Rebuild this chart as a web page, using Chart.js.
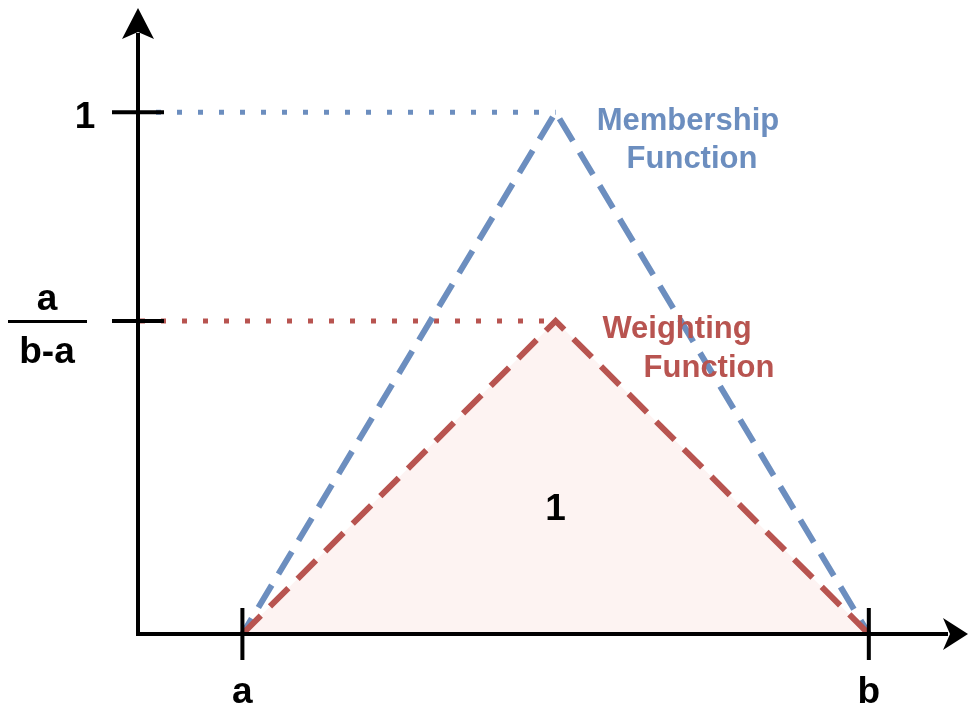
<!DOCTYPE html>
<html>
<head>
<meta charset="utf-8">
<title>Membership and Weighting Function</title>
<script src="https://cdn.jsdelivr.net/npm/chart.js@4"></script>
<style>
  html, body { margin: 0; padding: 0; background: #fff; }
  canvas { display: block; }
</style>
</head>
<body>
<canvas id="fnChart" width="970" height="710"></canvas>
<script>
// Triangle corners: start a, peak, end b
const xValues = [1, 4, 7];
const membership = [0, 1, 0];
const weighting = [0, 0.6, 0];

// Axis ticks
const xTicks = [1, 7];
const xTickLabels = ['a', 'b'];
const yTicks = [1, 0.6];
const yTickLabels = [['1'], ['a', 'b-a']];

// Series labels and the area note
const membershipLabel = ['Membership', 'Function'];
const weightingLabel = ['Weighting', 'Function'];
const areaLabel = '1';

const BLUE = '#6c8ebf';
const RED = '#b85450';
const FONT = '"Liberation Sans", Arial, sans-serif';

function toPoints(xs, ys) {
  return xs.map((x, i) => ({ x: x, y: ys[i] }));
}

// Dotted guide from the y axis to the peak
function guide(yVal) {
  return [{ x: 0, y: yVal }, { x: xValues[1], y: yVal }];
}

// Axes, arrows, ticks and text drawn on top of the lines
const axesPlugin = {
  id: 'axesPlugin',
  afterDatasetsDraw(chart) {
    const ctx = chart.ctx;
    const xs = chart.scales.x;
    const ys = chart.scales.y;
    const x0 = xs.getPixelForValue(0);
    const y0 = ys.getPixelForValue(0);
    const area = chart.chartArea;

    ctx.save();
    ctx.strokeStyle = '#000';
    ctx.fillStyle = '#000';
    ctx.lineWidth = 4;
    ctx.lineCap = 'butt';

    // axis lines
    ctx.beginPath();
    ctx.moveTo(x0, y0 + 2);
    ctx.lineTo(x0, area.top + 25);
    ctx.moveTo(x0 - 2, y0);
    ctx.lineTo(area.right - 20, y0);
    ctx.stroke();

    // arrow heads
    ctx.beginPath();
    ctx.moveTo(x0, area.top);
    ctx.lineTo(x0 + 16, area.top + 31);
    ctx.lineTo(x0, area.top + 24);
    ctx.lineTo(x0 - 16, area.top + 31);
    ctx.closePath();
    ctx.fill();

    ctx.beginPath();
    ctx.moveTo(area.right, y0);
    ctx.lineTo(area.right - 25, y0 - 16);
    ctx.lineTo(area.right - 18, y0);
    ctx.lineTo(area.right - 25, y0 + 16);
    ctx.closePath();
    ctx.fill();

    // ticks
    ctx.beginPath();
    xTicks.forEach(v => {
      const px = xs.getPixelForValue(v);
      ctx.moveTo(px, y0 - 26);
      ctx.lineTo(px, y0 + 26);
    });
    yTicks.forEach(v => {
      const py = ys.getPixelForValue(v);
      ctx.moveTo(x0 - 26, py);
      ctx.lineTo(x0 + 26, py);
    });
    ctx.stroke();

    // tick labels
    ctx.font = 'bold 37px ' + FONT;
    ctx.textAlign = 'center';
    ctx.textBaseline = 'alphabetic';
    xTicks.forEach((v, i) => {
      ctx.fillText(xTickLabels[i], xs.getPixelForValue(v), y0 + 69);
    });
    yTicks.forEach((v, i) => {
      const py = ys.getPixelForValue(v);
      const lines = yTickLabels[i];
      if (lines.length === 1) {
        ctx.fillText(lines[0], x0 - 53, py + 16);
      } else {
        // fraction: numerator, bar, denominator
        ctx.fillText(lines[0], x0 - 91, py - 11);
        ctx.fillText(lines[1], x0 - 91, py + 42);
        ctx.fillRect(x0 - 130, py - 1, 79, 3);
      }
    });

    // area note inside the weighting triangle
    ctx.fillText(areaLabel, xs.getPixelForValue(xValues[1]), 520);

    // series labels
    ctx.font = 'bold 31px ' + FONT;
    ctx.fillStyle = BLUE;
    ctx.fillText(membershipLabel[0], 688, 130);
    ctx.fillText(membershipLabel[1], 692, 168);
    ctx.fillStyle = RED;
    ctx.fillText(weightingLabel[0], 677, 338);
    ctx.fillText(weightingLabel[1], 709, 377);

    ctx.restore();
  }
};

new Chart(document.getElementById('fnChart'), {
  type: 'line',
  data: {
    datasets: [
      {
        label: 'Weighting Function',
        data: toPoints(xValues, weighting),
        borderColor: RED,
        borderWidth: 6,
        borderDash: [26, 13],
        backgroundColor: 'rgba(248, 206, 204, 0.25)',
        fill: 'origin',
        pointRadius: 0,
        tension: 0,
        order: 0
      },
      {
        label: 'Membership Function',
        data: toPoints(xValues, membership),
        borderColor: BLUE,
        borderWidth: 6,
        borderDash: [26, 13],
        borderDashOffset: 8,
        fill: false,
        pointRadius: 0,
        tension: 0,
        order: 1
      },
      {
        label: 'membership guide',
        data: guide(membership[1]),
        borderColor: BLUE,
        borderWidth: 5,
        borderDash: [5, 16],
        borderDashOffset: 3,
        fill: false,
        pointRadius: 0,
        order: 2
      },
      {
        label: 'weighting guide',
        data: guide(weighting[1]),
        borderColor: RED,
        borderWidth: 5,
        borderDash: [5, 16],
        borderDashOffset: 19,
        fill: false,
        pointRadius: 0,
        order: 2
      }
    ]
  },
  options: {
    responsive: false,
    devicePixelRatio: 1,
    animation: false,
    layout: {
      padding: { left: 138, right: 2, top: 8, bottom: 76 }
    },
    scales: {
      x: { type: 'linear', min: 0, max: 7.95, display: false },
      y: { type: 'linear', min: 0, max: 1.2, display: false }
    },
    plugins: {
      legend: { display: false },
      tooltip: { enabled: false }
    }
  },
  plugins: [axesPlugin]
});
</script>
</body>
</html>
